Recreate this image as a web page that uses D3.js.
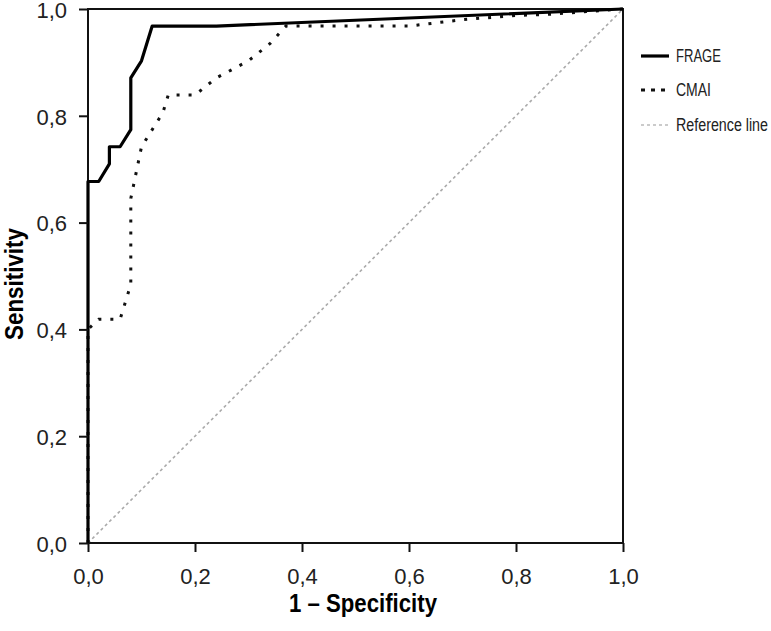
<!DOCTYPE html>
<html>
<head>
<meta charset="utf-8">
<script src="https://cdn.jsdelivr.net/npm/d3@7"></script>
<style>
  body { margin: 0; background: #fff; }
  svg { display: block; }
  text { font-family: "Liberation Sans", Arial, sans-serif; fill: #222; }
</style>
</head>
<body>
<svg></svg>
<script>
// ROC curve points: [1 - specificity, sensitivity]
let frageX = [0, 0, 0.02, 0.04, 0.04, 0.06, 0.08, 0.08, 0.10, 0.12, 0.24, 1]
let frageY = [0, 0.677, 0.677, 0.710, 0.742, 0.742, 0.774, 0.871, 0.903, 0.968, 0.968, 1]

let cmaiX = [0, 0, 0.02, 0.06, 0.08, 0.08, 0.10, 0.14, 0.15, 0.20, 0.24, 0.30, 0.34, 0.37, 0.60, 0.70, 0.80, 0.86, 1]
let cmaiY = [0, 0.40, 0.419, 0.419, 0.484, 0.645, 0.742, 0.806, 0.839, 0.839, 0.871, 0.903, 0.935, 0.968, 0.968, 0.980, 0.988, 0.990, 1]

let refX = [0, 1]
let refY = [0, 1]

let ticks = [0, 0.2, 0.4, 0.6, 0.8, 1.0]
let tickLabels = ['0,0', '0,2', '0,4', '0,6', '0,8', '1,0']

let seriesNames = ['FRAGE', 'CMAI', 'Reference line']

let width = 771
let height = 631
let padLeft = 88
let padRight = 623
let padTop = 9
let padBottom = 543

let svg = d3.select('svg')
    .attr('width', width)
    .attr('height', height)

let xScale = d3.scaleLinear().domain([0, 1]).range([padLeft, padRight])
let yScale = d3.scaleLinear().domain([0, 1]).range([padBottom, padTop])

let fmt = (d) => tickLabels[ticks.indexOf(d)]

let zip = (xs, ys) => xs.map((x, i) => [x, ys[i]])

let line = d3.line()
    .x((d) => xScale(d[0]))
    .y((d) => yScale(d[1]))

// frame
svg.append('rect')
    .attr('x', padLeft)
    .attr('y', padTop)
    .attr('width', padRight - padLeft)
    .attr('height', padBottom - padTop)
    .attr('fill', 'none')
    .attr('stroke', '#111')
    .attr('stroke-width', 2)

// reference line
svg.append('path')
    .datum(zip(refX, refY))
    .attr('d', line)
    .attr('fill', 'none')
    .attr('stroke', '#aaa')
    .attr('stroke-width', 1.6)
    .attr('stroke-dasharray', '3,3')

// CMAI
svg.append('path')
    .datum(zip(cmaiX, cmaiY))
    .attr('d', line)
    .attr('fill', 'none')
    .attr('stroke', '#111')
    .attr('stroke-width', 3)
    .attr('stroke-dasharray', '3,9')

// FRAGE
svg.append('path')
    .datum(zip(frageX, frageY))
    .attr('d', line)
    .attr('fill', 'none')
    .attr('stroke', '#000')
    .attr('stroke-width', 3.2)
    .attr('stroke-linejoin', 'round')

// axes
let xAxis = d3.axisBottom(xScale).tickValues(ticks).tickFormat(fmt).tickSizeOuter(0).tickSizeInner(9).tickPadding(16)
let yAxis = d3.axisLeft(yScale).tickValues(ticks).tickFormat(fmt).tickSizeOuter(0).tickSizeInner(9).tickPadding(12)

let gx = svg.append('g')
    .attr('transform', 'translate(0,' + padBottom + ')')
    .call(xAxis)
let gy = svg.append('g')
    .attr('transform', 'translate(' + padLeft + ',0)')
    .call(yAxis)

for (let g of [gx, gy]) {
    g.select('.domain').remove()
    g.selectAll('line').attr('stroke', '#111').attr('stroke-width', 2)
    g.selectAll('text')
        .attr('font-size', 22)
        .attr('font-family', '"Liberation Sans", Arial, sans-serif')
        .style('fill', '#222')
}
gy.selectAll('text').attr('dy', '0.38em')

// axis titles
svg.append('text')
    .attr('x', 363)
    .attr('y', 612)
    .attr('text-anchor', 'middle')
    .attr('font-size', 25)
    .attr('font-weight', 'bold')
    .attr('textLength', 148)
    .attr('lengthAdjust', 'spacingAndGlyphs')
    .style('fill', '#000')
    .text('1 – Specificity')

svg.append('text')
    .attr('transform', 'translate(23,284) rotate(-90)')
    .attr('text-anchor', 'middle')
    .attr('font-size', 25)
    .attr('font-weight', 'bold')
    .attr('textLength', 112)
    .attr('lengthAdjust', 'spacingAndGlyphs')
    .style('fill', '#000')
    .text('Sensitivity')

// legend
let legendY = [56, 90, 125]
let legendLen = [45, 35, 92]
let legendStyles = [
    { stroke: '#000', w: 3.2, dash: null },
    { stroke: '#111', w: 3, dash: '4,6' },
    { stroke: '#bbb', w: 1.6, dash: '3,3' }
]
let legend = svg.append('g')
seriesNames.forEach((name, i) => {
    let s = legendStyles[i]
    legend.append('line')
        .attr('x1', 641).attr('x2', 669)
        .attr('y1', legendY[i]).attr('y2', legendY[i])
        .attr('stroke', s.stroke)
        .attr('stroke-width', s.w)
        .attr('stroke-dasharray', s.dash)
    legend.append('text')
        .attr('x', 676)
        .attr('y', legendY[i])
        .attr('dy', '0.35em')
        .attr('font-size', 18)
        .attr('textLength', legendLen[i])
        .attr('lengthAdjust', 'spacingAndGlyphs')
        .text(name)
})
</script>
</body>
</html>
